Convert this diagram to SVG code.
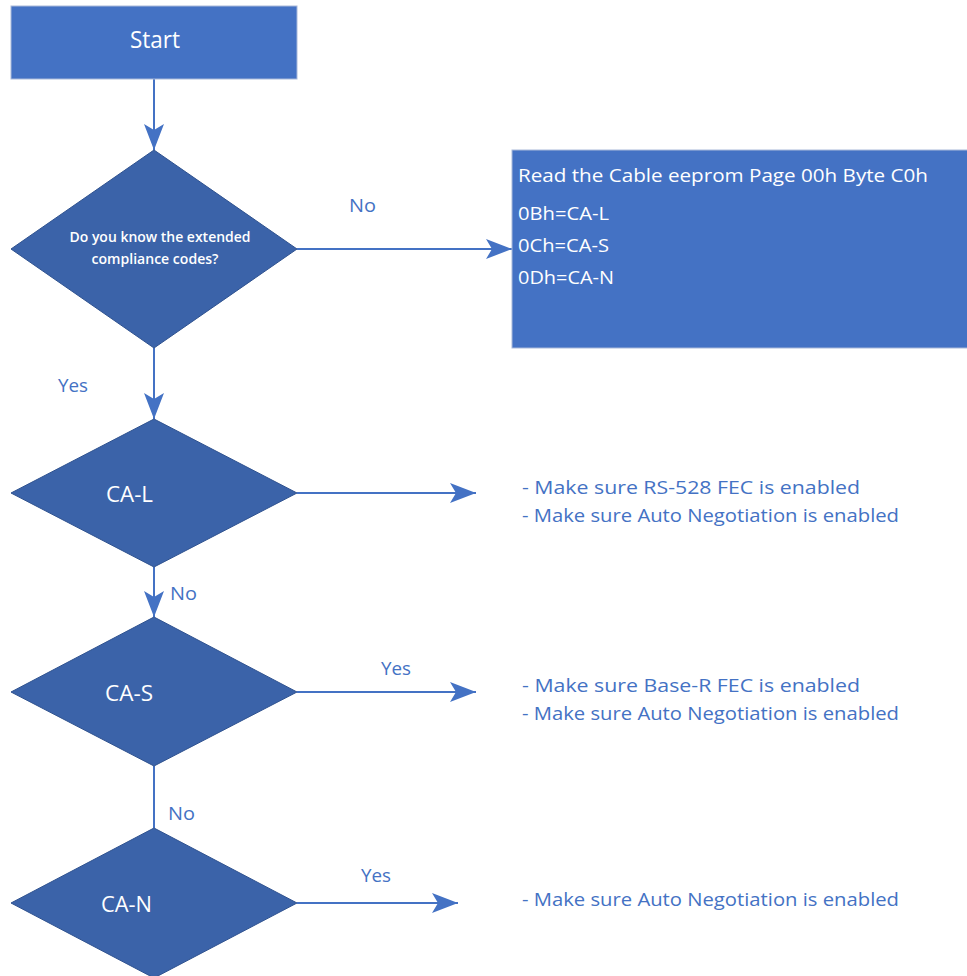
<svg xmlns="http://www.w3.org/2000/svg" width="967" height="976" viewBox="0 0 967 976">
<style>
.box{fill:#4472C4;stroke:#A9B9DA;stroke-width:1}
.dia{fill:#3B63A9;stroke:#2F528F;stroke-width:1}
.wt{fill:#FFFFFF;font-family:"Open Sans","Liberation Sans",sans-serif}
.lb{fill:#4472C4;font-family:"Open Sans","Liberation Sans",sans-serif;font-size:18px}
.ln{stroke:#4472C4;stroke-width:2;fill:none}
.bt{fill:#4472C4;font-family:"Open Sans","Liberation Sans",sans-serif;font-size:19px}
</style>
<defs>
<marker id="ah" markerUnits="userSpaceOnUse" markerWidth="27" markerHeight="22" refX="26" refY="10" orient="auto">
<path d="M0,0 L26,10 L0,20 L6,10 Z" fill="#4472C4"/>
</marker>
</defs>
<g id="connectors">
<line class="ln" x1="154" y1="79" x2="154" y2="150" marker-end="url(#ah)"/>
<line class="ln" x1="297" y1="249" x2="512" y2="249" marker-end="url(#ah)"/>
<line class="ln" x1="154" y1="348" x2="154" y2="419" marker-end="url(#ah)"/>
<line class="ln" x1="297" y1="493" x2="476" y2="493" marker-end="url(#ah)"/>
<line class="ln" x1="154" y1="567" x2="154" y2="617" marker-end="url(#ah)"/>
<line class="ln" x1="297" y1="692" x2="476" y2="692" marker-end="url(#ah)"/>
<line class="ln" x1="154" y1="766" x2="154" y2="828"/>
<line class="ln" x1="297" y1="903" x2="458" y2="903" marker-end="url(#ah)"/>
<text class="lb" x="349" y="212" textLength="27" lengthAdjust="spacingAndGlyphs">No</text>
<text class="lb" x="58" y="392" textLength="30" lengthAdjust="spacingAndGlyphs">Yes</text>
<text class="lb" x="170" y="600" textLength="27" lengthAdjust="spacingAndGlyphs">No</text>
<text class="lb" x="381" y="675" textLength="30" lengthAdjust="spacingAndGlyphs">Yes</text>
<text class="lb" x="168" y="820" textLength="27" lengthAdjust="spacingAndGlyphs">No</text>
<text class="lb" x="361" y="882" textLength="30" lengthAdjust="spacingAndGlyphs">Yes</text>
</g>
<g id="start">
<rect class="box" x="11" y="6" width="286" height="73"/>
<text class="wt" x="155" y="48" font-size="23" text-anchor="middle" textLength="50" lengthAdjust="spacingAndGlyphs">Start</text>
</g>
<g id="q-extended">
<polygon class="dia" points="154,150 297,249 154,348 11,249"/>
<text class="wt" x="160" y="242" font-size="14" font-weight="600" text-anchor="middle" textLength="181" lengthAdjust="spacingAndGlyphs">Do you know the extended</text>
<text class="wt" x="155" y="264" font-size="14" font-weight="600" text-anchor="middle" textLength="127" lengthAdjust="spacingAndGlyphs">compliance codes?</text>
</g>
<g id="read-eeprom">
<rect class="box" x="512" y="150" width="460" height="198"/>
<text class="wt" x="518" y="182" font-size="19" textLength="410" lengthAdjust="spacingAndGlyphs">Read the Cable eeprom  Page 00h Byte C0h</text>
<text class="wt" x="518" y="220" font-size="19" textLength="91" lengthAdjust="spacingAndGlyphs">0Bh=CA-L</text>
<text class="wt" x="518" y="252" font-size="19" textLength="91" lengthAdjust="spacingAndGlyphs">0Ch=CA-S</text>
<text class="wt" x="518" y="284" font-size="19" textLength="96" lengthAdjust="spacingAndGlyphs">0Dh=CA-N</text>
</g>
<g id="ca-l">
<polygon class="dia" points="154,419 297,493 154,567 11,493"/>
<text class="wt" x="106" y="502" font-size="22" textLength="47" lengthAdjust="spacingAndGlyphs">CA-L</text>
</g>
<g id="ca-l-note">
<text class="bt" x="522" y="494" textLength="338" lengthAdjust="spacingAndGlyphs">- Make sure RS-528 FEC is enabled</text>
<text class="bt" x="522" y="522" textLength="377" lengthAdjust="spacingAndGlyphs">- Make sure Auto Negotiation is enabled</text>
</g>
<g id="ca-s">
<polygon class="dia" points="154,617 297,692 154,766 11,692"/>
<text class="wt" x="105" y="701" font-size="22" textLength="48" lengthAdjust="spacingAndGlyphs">CA-S</text>
</g>
<g id="ca-s-note">
<text class="bt" x="522" y="692" textLength="338" lengthAdjust="spacingAndGlyphs">- Make sure Base-R FEC is enabled</text>
<text class="bt" x="522" y="720" textLength="377" lengthAdjust="spacingAndGlyphs">- Make sure Auto Negotiation is enabled</text>
</g>
<g id="ca-n">
<polygon class="dia" points="154,828 297,903 154,978 11,903"/>
<text class="wt" x="101" y="912" font-size="22" textLength="51" lengthAdjust="spacingAndGlyphs">CA-N</text>
</g>
<g id="ca-n-note">
<text class="bt" x="522" y="906" textLength="377" lengthAdjust="spacingAndGlyphs">- Make sure Auto Negotiation is enabled</text>
</g>
</svg>
